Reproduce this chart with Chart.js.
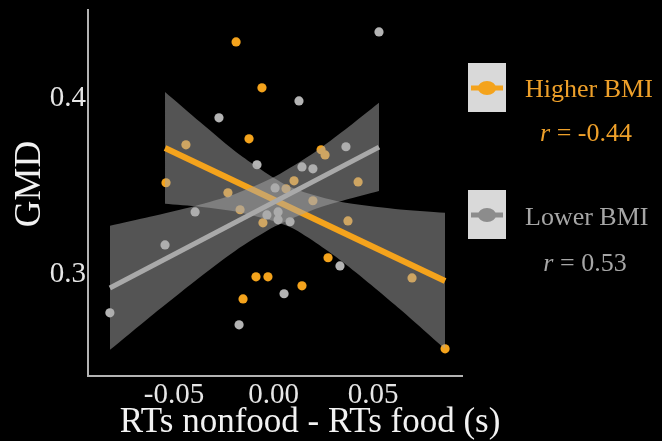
<!DOCTYPE html>
<html>
<head>
<meta charset="utf-8">
<script src="https://cdn.jsdelivr.net/npm/chart.js@4.4.1/dist/chart.umd.min.js"></script>
<style>
  html, body { margin: 0; padding: 0; background: #000; overflow: hidden; }
  canvas { display: block; }
</style>
</head>
<body>
<canvas id="c" width="662" height="441"></canvas>
<script>
// Axis ticks and labels
const xTicks = [-0.05, 0, 0.05];
const xTickLabels = ['-0.05', '0.00', '0.05'];
const yTicks = [0.3, 0.4];
const yTickLabels = ['0.3', '0.4'];
const xTitle = 'RTs nonfood - RTs food (s)';
const yTitle = 'GMD';

// Groups and their correlation coefficients
const groupNames = ['Higher BMI', 'Lower BMI'];
const groupR = ['-0.44', '0.53'];

// Higher BMI participants
const higherX = [-0.0188, -0.0058, -0.0123, -0.0440, -0.0540, -0.0229, -0.0168, -0.0053,
                 0.0103, 0.0063, 0.0239, 0.0259, 0.0425, 0.0198, 0.0374, 0.0696,
                 0.0862, 0.0274, 0.0143, -0.0088, -0.0028, -0.0153];
const higherY = [0.4318, 0.4058, 0.3769, 0.3735, 0.3520, 0.3463, 0.3367, 0.3293,
                 0.3531, 0.3486, 0.3707, 0.3678, 0.3525, 0.3418, 0.3304, 0.2981,
                 0.2579, 0.3095, 0.2936, 0.2987, 0.2987, 0.2862];

// Lower BMI participants
const lowerX = [0.0530, 0.0128, -0.0274, -0.0083, 0.0143, 0.0198, 0.0364, 0.0008,
                -0.0394, -0.0545, -0.0822, -0.0033, 0.0023, 0.0083, 0.0053, -0.0173,
                0.0334, 0.0023];
const lowerY = [0.4375, 0.3984, 0.3888, 0.3622, 0.3610, 0.3599, 0.3724, 0.3491,
                0.3355, 0.3168, 0.2783, 0.3338, 0.3355, 0.3299, 0.2891, 0.2715,
                0.3049, 0.3310];

// Linear fits
const higherFitX = [-0.0545, 0.0862];
const higherFitY = [0.3717, 0.2963];
const lowerFitX = [-0.0822, 0.0530];
const lowerFitY = [0.2924, 0.3722];

// 95% confidence bands of the fits
const higherBandX = [-0.0545, -0.0369, -0.0168, 0.0083, 0.0334, 0.0611, 0.0862];
const higherBandUpper = [0.4035, 0.3865, 0.3678, 0.3497, 0.3412, 0.3372, 0.3350];
const higherBandLower = [0.3401, 0.3384, 0.3352, 0.3269, 0.3083, 0.2828, 0.2579];

const lowerBandX = [-0.0822, -0.0621, -0.0394, -0.0193, 0.0008, 0.0209, 0.0359, 0.0530];
const lowerBandUpper = [0.3276, 0.3327, 0.3389, 0.3457, 0.3556, 0.3695, 0.3820, 0.3973];
const lowerBandLower = [0.2573, 0.2760, 0.2964, 0.3134, 0.3273, 0.3372, 0.3423, 0.3474];

const ORANGE = '#f4a31c';
const GREY_PT = '#b4b4b4';
const GREY_LINE = '#a9a9a9';
const BAND = 'rgba(168,168,168,0.5)';
const SERIF = '"Liberation Serif", "DejaVu Serif", serif';

const pts = (xs, ys) => xs.map((x, i) => ({ x: x, y: ys[i] }));

const bandStyle = {
  showLine: true, pointRadius: 0, borderWidth: 0, borderColor: 'rgba(0,0,0,0)',
  backgroundColor: BAND, tension: 0.25
};

const datasets = [
  // points go underneath everything else
  { data: pts(higherX, higherY), showLine: false, pointRadius: 4.6, pointBorderWidth: 0,
    pointBackgroundColor: ORANGE, order: 10 },
  { data: pts(lowerX, lowerY), showLine: false, pointRadius: 4.6, pointBorderWidth: 0,
    pointBackgroundColor: GREY_PT, order: 9 },
  // Higher BMI band + fit
  Object.assign({ data: pts(higherBandX, higherBandUpper), fill: '+1', order: 8 }, bandStyle),
  Object.assign({ data: pts(higherBandX, higherBandLower), fill: false, order: 8 }, bandStyle),
  { data: pts(higherFitX, higherFitY), showLine: true, pointRadius: 0, borderColor: ORANGE,
    borderWidth: 6, fill: false, order: 7 },
  // Lower BMI band + fit
  Object.assign({ data: pts(lowerBandX, lowerBandUpper), fill: '+1', order: 6 }, bandStyle),
  Object.assign({ data: pts(lowerBandX, lowerBandLower), fill: false, order: 6 }, bandStyle),
  { data: pts(lowerFitX, lowerFitY), showLine: true, pointRadius: 0, borderColor: GREY_LINE,
    borderWidth: 5, fill: false, order: 5 }
];

const decorations = {
  id: 'decorations',
  beforeDraw(chart) {
    const ctx = chart.ctx;
    ctx.save();
    ctx.fillStyle = '#000';
    ctx.fillRect(0, 0, chart.width, chart.height);
    ctx.restore();
  },
  afterDraw(chart) {
    const ctx = chart.ctx;
    ctx.save();
    // axis titles
    ctx.fillStyle = '#f2f2f2';
    ctx.font = '35px ' + SERIF;
    ctx.textAlign = 'center';
    ctx.textBaseline = 'alphabetic';
    ctx.fillText(xTitle, 310, 432);
    ctx.save();
    ctx.translate(40, 184);
    ctx.rotate(-Math.PI / 2);
    ctx.font = '37px ' + SERIF;
    ctx.fillText(yTitle, 0, 0);
    ctx.restore();

    // legend
    const keys = [
      { top: 63, color: ORANGE, text: '#eea02a', label: groupNames[0], r: groupR[0], base: 97, rBase: 141, rCx: 586 },
      { top: 190, color: '#8c8c8c', text: '#a6a6a6', label: groupNames[1], r: groupR[1], base: 225, rBase: 271, rCx: 585 }
    ];
    keys.forEach(k => {
      ctx.fillStyle = '#d9d9d9';
      ctx.fillRect(468, k.top, 38, 49);
      const cy = k.top + 25;
      ctx.strokeStyle = k.color;
      ctx.lineWidth = 5;
      ctx.beginPath();
      ctx.moveTo(471, cy);
      ctx.lineTo(503, cy);
      ctx.stroke();
      ctx.fillStyle = k.color;
      ctx.beginPath();
      ctx.ellipse(487, cy, 9, 7, 0, 0, Math.PI * 2);
      ctx.fill();

      ctx.fillStyle = k.text;
      ctx.textAlign = 'left';
      ctx.font = '26px ' + SERIF;
      ctx.fillText(k.label, 525, k.base);

      const rest = ' = ' + k.r;
      ctx.font = 'italic 26px ' + SERIF;
      const wr = ctx.measureText('r').width;
      ctx.font = '26px ' + SERIF;
      const wRest = ctx.measureText(rest).width;
      const x0 = k.rCx - (wr + wRest) / 2;
      ctx.font = 'italic 26px ' + SERIF;
      ctx.fillText('r', x0, k.rBase);
      ctx.font = '26px ' + SERIF;
      ctx.fillText(rest, x0 + wr, k.rBase);
    });
    ctx.restore();
  }
};

new Chart(document.getElementById('c'), {
  type: 'line',
  data: { datasets: datasets },
  options: {
    responsive: false,
    animation: false,
    devicePixelRatio: 1,
    layout: { padding: { top: 10, right: 200, bottom: 0, left: 0 } },
    plugins: { legend: { display: false }, tooltip: { enabled: false } },
    scales: {
      x: {
        type: 'linear',
        min: -0.0932, max: 0.0947,
        afterBuildTicks: s => { s.ticks = xTicks.map(v => ({ value: v })); },
        afterFit: s => { s.height = 65; s.paddingLeft = 0; s.paddingRight = 0; },
        grid: { display: false, drawTicks: false },
        border: { display: true, color: '#b3b3b3', width: 2 },
        ticks: {
          color: '#e6e6e6', padding: 2, maxRotation: 0, autoSkip: false,
          font: { family: SERIF, size: 29 },
          callback: v => xTickLabels[xTicks.indexOf(v)]
        }
      },
      y: {
        type: 'linear',
        min: 0.2425, max: 0.4499,
        afterBuildTicks: s => { s.ticks = yTicks.map(v => ({ value: v })); },
        afterFit: s => { s.width = 88; s.paddingTop = 0; s.paddingBottom = 0; },
        grid: { display: false, drawTicks: false },
        border: { display: true, color: '#b3b3b3', width: 2 },
        ticks: {
          color: '#e6e6e6', padding: 2, autoSkip: false,
          font: { family: SERIF, size: 29 },
          callback: v => yTickLabels[yTicks.indexOf(v)]
        }
      }
    }
  },
  plugins: [decorations]
});
</script>
</body>
</html>
